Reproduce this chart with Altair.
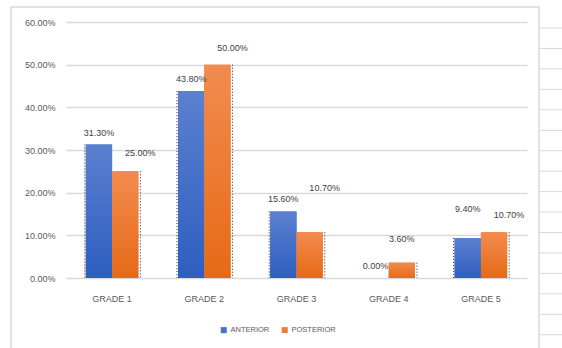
import altair as alt
import pandas as pd

grades = ["GRADE 1", "GRADE 2", "GRADE 3", "GRADE 4", "GRADE 5"]
series_names = ["ANTERIOR", "POSTERIOR"]
anterior = [31.3, 43.8, 15.6, 0.0, 9.4]
posterior = [25.0, 50.0, 10.7, 3.6, 10.7]
# label placement (lift above bar, in percentage points) as in the source chart
anterior_lift = [2.8, 2.9, 2.9, 2.8, 6.7]
posterior_lift = [4.2, 4.0, 10.3, 5.5, 4.0]
posterior_label_shifted = [True, True, True, False, True]

rows = []
for i, g in enumerate(grades):
    rows.append({"grade": g, "series": "ANTERIOR", "value": anterior[i] / 100,
                 "label_y": (anterior[i] + anterior_lift[i]) / 100, "shift": False})
    rows.append({"grade": g, "series": "POSTERIOR", "value": posterior[i] / 100,
                 "label_y": (posterior[i] + posterior_lift[i]) / 100,
                 "shift": posterior_label_shifted[i]})
df = pd.DataFrame(rows)

FONT = "Liberation Sans"
W, H = 461, 256

xscale = alt.Scale(domain=grades, paddingInner=0.43, paddingOuter=0.215)
xoff = alt.XOffset("series:N", scale=alt.Scale(domain=series_names, paddingInner=0, paddingOuter=0))
yscale = alt.Scale(domain=[0, 0.6])

X = alt.X("grade:N", scale=xscale, sort=grades,
          axis=alt.Axis(title=None, labelAngle=0, ticks=False, domain=False,
                        labelPadding=16, labelFontSize=9, labelColor="#595959",
                        labelFont=FONT))
Y = alt.Y("value:Q", scale=yscale,
          axis=alt.Axis(title=None, values=[0, 0.1, 0.2, 0.3, 0.4, 0.5, 0.6],
                        format=".2%", ticks=False, domain=False, labelPadding=11,
                        labelFontSize=9, labelColor="#595959", labelFont=FONT,
                        gridColor="#D9D9D9", gridWidth=1.5))

base = alt.Chart(df)

legend_bars = base.mark_bar().encode(
    x=X, y=Y, xOffset=xoff,
    color=alt.Color("series:N", scale=alt.Scale(domain=series_names, range=["#4472C4", "#ED7D31"]),
                    legend=alt.Legend(title=None, orient="none", direction="horizontal",
                                      legendX=154, legendY=304, symbolType="square",
                                      symbolSize=36, symbolStrokeWidth=0, labelFontSize=7.5,
                                      labelFont=FONT, labelColor="#595959", labelOffset=3,
                                      columnPadding=11, padding=0)),
)

blue_grad = alt.LinearGradient(gradient="linear", x1=0, x2=0, y1=0, y2=1,
                               stops=[alt.GradientStop(color="#5B80D0", offset=0),
                                      alt.GradientStop(color="#2E5EBF", offset=1)])
orange_grad = alt.LinearGradient(gradient="linear", x1=0, x2=0, y1=0, y2=1,
                                 stops=[alt.GradientStop(color="#F38B4F", offset=0),
                                        alt.GradientStop(color="#E56A16", offset=1)])

ant_bars = base.transform_filter(alt.datum.series == "ANTERIOR").mark_bar(color=blue_grad).encode(
    x=X, y=Y, xOffset=xoff)
post_bars = base.transform_filter(alt.datum.series == "POSTERIOR").mark_bar(color=orange_grad).encode(
    x=X, y=Y, xOffset=xoff)

ant_edge = base.transform_filter(
    (alt.datum.series == "ANTERIOR") & (alt.datum.value > 0)
).mark_rule(color="#222222", strokeDash=[1, 2], strokeWidth=1, xOffset=-1).encode(
    x=alt.X("grade:N", scale=xscale, sort=grades, bandPosition=0),
    y=alt.Y("value:Q", scale=yscale), y2=alt.datum(0))
post_edge = base.transform_filter(
    (alt.datum.series == "POSTERIOR") & (alt.datum.value > 0)
).mark_rule(color="#222222", strokeDash=[1, 2], strokeWidth=1, xOffset=2).encode(
    x=alt.X("grade:N", scale=xscale, sort=grades, bandPosition=1),
    y=alt.Y("value:Q", scale=yscale), y2=alt.datum(0))

text_style = dict(fontSize=9, font=FONT, color="#404040", baseline="middle", align="center")
ant_text = base.transform_filter(alt.datum.series == "ANTERIOR").mark_text(**text_style).encode(
    x=X, xOffset=xoff, y=alt.Y("label_y:Q", scale=yscale),
    text=alt.Text("value:Q", format=".2%"))
post_text_shift = base.transform_filter(
    (alt.datum.series == "POSTERIOR") & alt.datum.shift
).mark_text(dx=15, **text_style).encode(
    x=X, xOffset=xoff, y=alt.Y("label_y:Q", scale=yscale),
    text=alt.Text("value:Q", format=".2%"))
post_text_plain = base.transform_filter(
    (alt.datum.series == "POSTERIOR") & (alt.datum.shift == False)
).mark_text(**text_style).encode(
    x=X, xOffset=xoff, y=alt.Y("label_y:Q", scale=yscale),
    text=alt.Text("value:Q", format=".2%"))

one = alt.Data(values=[{"k": 1}])
frame = alt.Chart(one).mark_rect(fill=None, stroke="#D9D9D9", strokeWidth=1.5).encode(
    x=alt.value(-55), x2=alt.value(473), y=alt.value(-15), y2=alt.value(340))

# spreadsheet cell lines to the right of the chart (decoration)
sheet_rows = pd.DataFrame({"yy": [6 + 20.45 * k for k in range(16)]})
sheet = alt.Chart(sheet_rows).mark_rule(color="#D0D9E6", strokeWidth=1).encode(
    x=alt.value(474), x2=alt.value(500), y=alt.Y("yy:Q", scale=None))

chart = alt.layer(
    frame, sheet, legend_bars, ant_bars, post_bars, ant_edge, post_edge,
    ant_text, post_text_shift, post_text_plain
).properties(
    width=W, height=H,
    padding={"left": 66, "top": 22, "right": 35, "bottom": 70},
    autosize=alt.AutoSizeParams(type="none"),
    background="white",
).configure_view(stroke=None)

chart.save("out.html", embed_options={"renderer": "svg", "actions": False})
